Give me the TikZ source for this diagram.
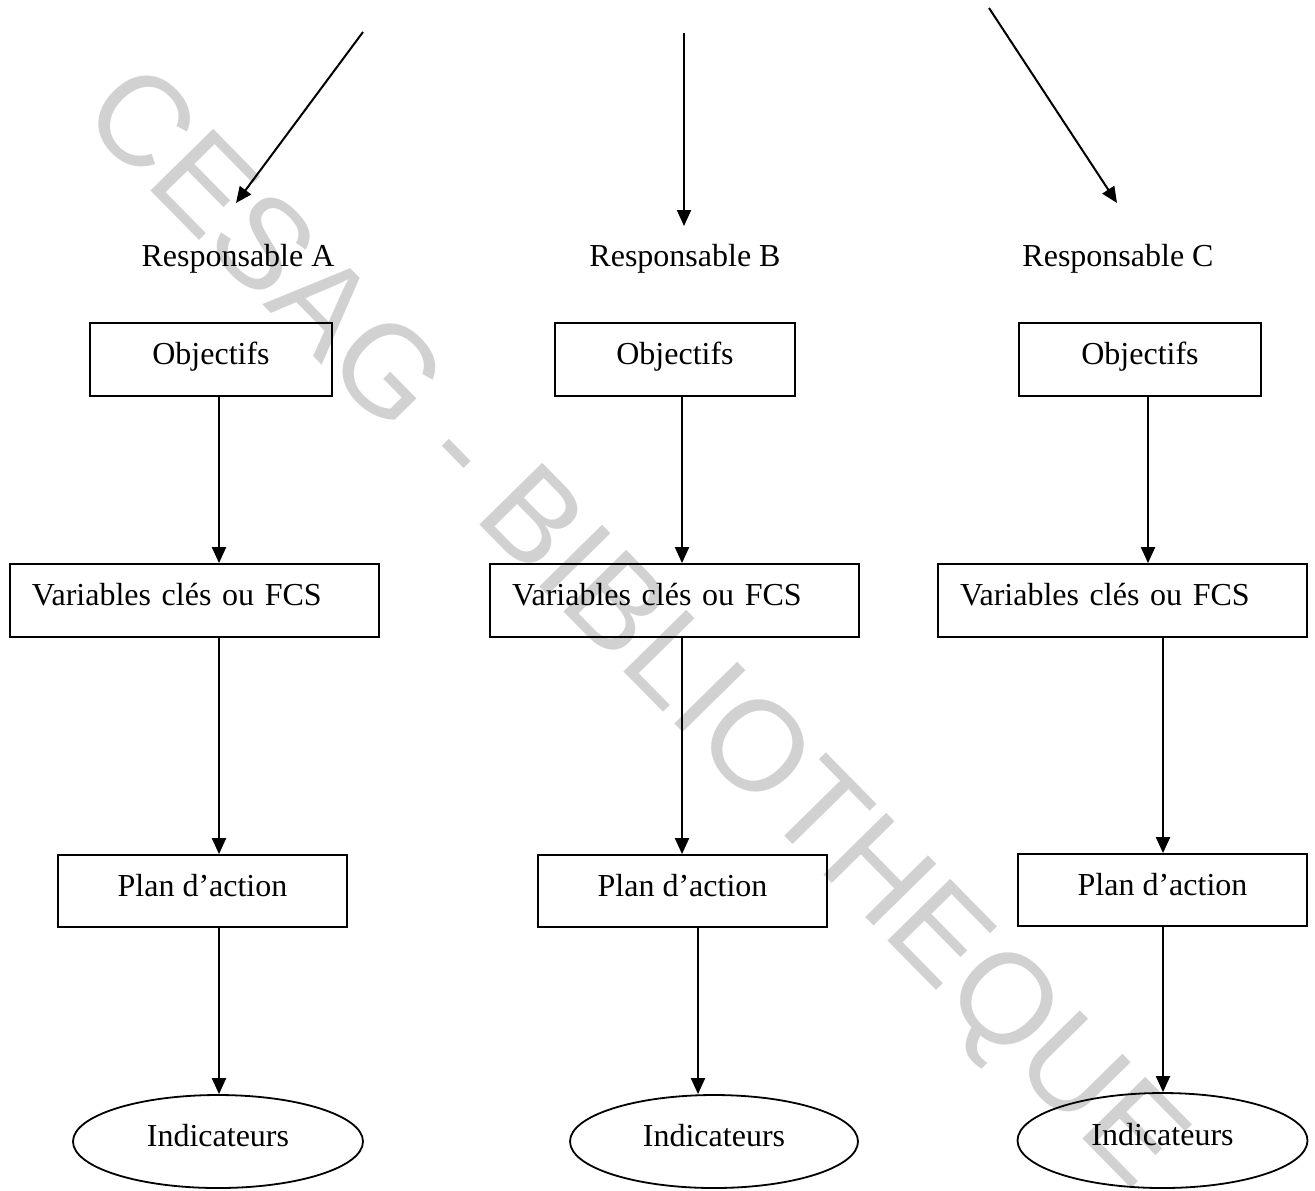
\documentclass[tikz,border=0pt]{standalone}
\usepackage{fontspec}
\setmainfont{Liberation Serif}
\newfontfamily\wmfont{Liberation Sans}
\usetikzlibrary{shapes.geometric,arrows.meta}

\begin{document}
\begin{tikzpicture}[x=0.5pt,y=-0.5pt,
  lbl/.style={font=\fontsize{16}{19}\selectfont, inner sep=0pt},
  box/.style={lbl, draw, line width=0.9pt, rectangle,
    text height=11pt, text depth=6pt, minimum height=36.5pt},
  objbox/.style={box, minimum width=121pt},
  varbox/.style={box, text width=162.5pt, align=left, inner xsep=11pt},
  planbox/.style={box, minimum width=144.5pt, minimum height=36pt},
  indic/.style={lbl, draw, line width=0.9pt, ellipse,
    text height=11pt, text depth=6pt, minimum width=145pt, minimum height=46.5pt},
  arr/.style={line width=1pt, -{Triangle[length=8pt,width=7pt]}},
  wmark/.style={text=black!18, inner sep=0pt,
    font=\wmfont\fontsize{64}{70}\selectfont}
]
\useasboundingbox (0,0) rectangle (1315,1190);
\clip (0,0) rectangle (1315,1190);

% background watermark
\node[wmark, rotate=-45.5] (wm) at (630,632) {CESAG - BIBLIOTHEQUE};

% column anchors for the vertical connectors
\coordinate (aOV) at (219,0);
\coordinate (aVP) at (219,0);
\coordinate (aPI) at (219,0);
\coordinate (bOV) at (682,0);
\coordinate (bVP) at (682,0);
\coordinate (bPI) at (698,0);
\coordinate (cOV) at (1148,0);
\coordinate (cVP) at (1163,0);
\coordinate (cPI) at (1163,0);

% incoming arrows
\coordinate (inA) at (363,32);
\coordinate (tipA) at (236,203);
\coordinate (inB) at (684,33);
\coordinate (tipB) at (684,226);
\coordinate (inC) at (989,8);
\coordinate (tipC) at (1117,203);
\draw[arr] (inA) -- (tipA);
\draw[arr] (inB) -- (tipB);
\draw[arr] (inC) -- (tipC);

% responsables
\node[lbl, anchor=base] (respA) at (238,266) {Responsable A};
\node[lbl, anchor=base] (respB) at (685,266) {Responsable B};
\node[lbl, anchor=base] (respC) at (1118,266) {Responsable C};

% objectifs
\node[objbox] (objA) at (211,359.5) {Objectifs};
\node[objbox, minimum width=120pt] (objB) at (675,359.5) {Objectifs};
\node[objbox] (objC) at (1140,359.5) {Objectifs};

% variables clés
\node[varbox] (varA) at (194.5,600.5) {Variables clés ou FCS};
\node[varbox] (varB) at (674.5,600.5) {Variables clés ou FCS};
\node[varbox] (varC) at (1122.5,600.5) {Variables clés ou FCS};

% plans d'action
\node[planbox] (planA) at (202.5,891) {Plan d’action};
\node[planbox] (planB) at (682.5,891) {Plan d’action};
\node[planbox] (planC) at (1162.5,890) {Plan d’action};

% indicateurs
\node[indic] (indA) at (218,1141.5) {Indicateurs};
\node[indic, minimum width=144pt] (indB) at (714,1141.5) {Indicateurs};
\node[indic, minimum height=47.5pt] (indC) at (1162.5,1140.5) {Indicateurs};

% vertical connectors
\draw[arr] (objA.south -| aOV) -- (varA.north -| aOV);
\draw[arr] (varA.south -| aVP) -- (planA.north -| aVP);
\draw[arr] (planA.south -| aPI) -- (indA.north -| aPI);
\draw[arr] (objB.south -| bOV) -- (varB.north -| bOV);
\draw[arr] (varB.south -| bVP) -- (planB.north -| bVP);
\draw[arr] (planB.south -| bPI) -- (indB.north -| bPI);
\draw[arr] (objC.south -| cOV) -- (varC.north -| cOV);
\draw[arr] (varC.south -| cVP) -- (planC.north -| cVP);
\draw[arr] (planC.south -| cPI) -- (indC.north -| cPI);
\end{tikzpicture}
\end{document}
